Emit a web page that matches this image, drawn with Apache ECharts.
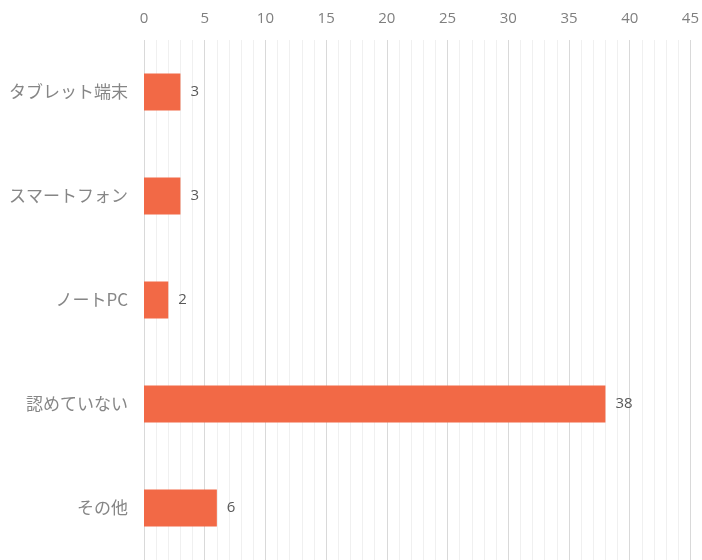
<!DOCTYPE html>
<html>
<head>
<meta charset="utf-8">
<script src="https://cdn.jsdelivr.net/npm/echarts@6/dist/echarts.min.js"></script>
<style>
  html, body { margin: 0; padding: 0; background: #ffffff; }
  #chart { width: 702px; height: 560px; }
</style>
</head>
<body>
<div id="chart"></div>
<script>
// Devices permitted (top to bottom) and counts
const categories = ['タブレット端末', 'スマートフォン', 'ノートPC', '認めていない', 'その他'];
const counts = [3, 3, 2, 38, 6];
const axisMax = 45;
const axisStep = 5;

const FONT = '"Noto Sans CJK JP", "Noto Sans", sans-serif';
const NUM_FONT = '"Open Sans", "Noto Sans", sans-serif';

const chart = echarts.init(document.getElementById('chart'), null, { renderer: 'canvas' });
chart.setOption({
  backgroundColor: '#ffffff',
  animation: false,
  grid: { left: 144, right: 11, top: 40, bottom: -3, containLabel: false },
  xAxis: {
    type: 'value',
    position: 'top',
    min: 0,
    max: axisMax,
    interval: axisStep,
    axisLine: { show: false },
    axisTick: { show: false },
    axisLabel: { color: '#7f7f7f', fontSize: 15, fontFamily: NUM_FONT, margin: 14 },
    splitLine: { show: true, lineStyle: { color: '#d9d9d9', width: 1 } },
    minorTick: { show: false, splitNumber: 5 },
    minorSplitLine: { show: true, lineStyle: { color: '#f0f0f0', width: 1 } }
  },
  yAxis: {
    type: 'category',
    data: categories,
    inverse: true,
    axisLine: { show: false },
    axisTick: { show: false },
    axisLabel: { color: '#868686', fontSize: 17, fontFamily: FONT, margin: 16 }
  },
  series: [{
    type: 'bar',
    data: counts,
    barWidth: 37,
    itemStyle: { color: '#f26946' },
    label: {
      show: true,
      position: 'right',
      distance: 10,
      color: '#595959',
      fontSize: 15,
      fontFamily: NUM_FONT
    }
  }]
});
</script>
</body>
</html>
